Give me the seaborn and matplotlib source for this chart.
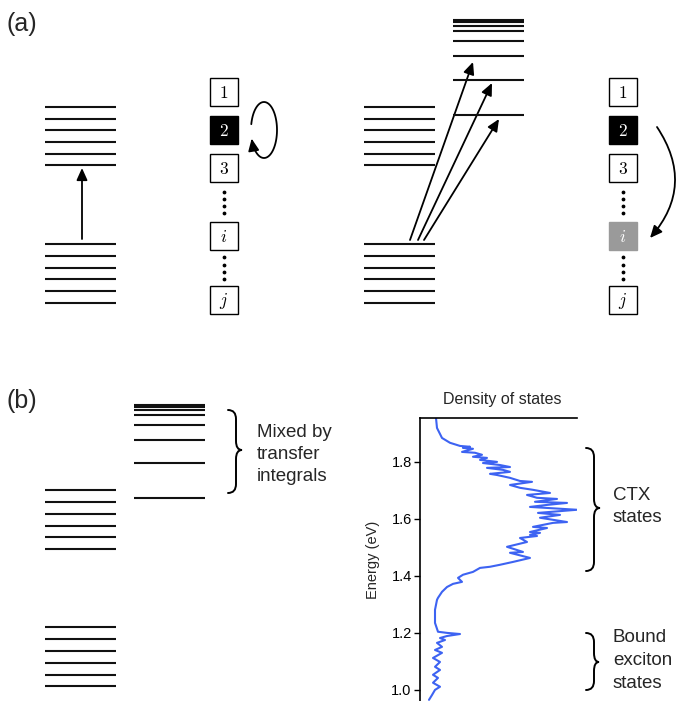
import matplotlib
matplotlib.use("Agg")
import matplotlib.pyplot as plt
import seaborn as sns
import pandas as pd
import numpy as np
from matplotlib.patches import Rectangle, FancyArrowPatch, PathPatch
from matplotlib.path import Path

sns.set_theme(style="white")
plt.rcParams["font.family"] = ["Liberation Sans", "DejaVu Sans"]
plt.rcParams["mathtext.fontset"] = "cm"

# ---------------- data: density of states (panel b) ----------------
dos_energy = [1.954, 1.919, 1.884, 1.867, 1.856, 1.853, 1.849, 1.846, 1.835, 1.832,
              1.825, 1.818, 1.814, 1.807, 1.800, 1.796, 1.789, 1.782, 1.779, 1.772,
              1.765, 1.758, 1.754, 1.744, 1.733, 1.730, 1.719, 1.709, 1.702, 1.691,
              1.684, 1.674, 1.670, 1.660, 1.656, 1.649, 1.642, 1.632, 1.621, 1.614,
              1.604, 1.589, 1.586, 1.572, 1.568, 1.554, 1.551, 1.544, 1.540, 1.533,
              1.519, 1.502, 1.484, 1.481, 1.463, 1.449, 1.439, 1.432, 1.428, 1.414,
              1.404, 1.393, 1.379, 1.372, 1.361, 1.344, 1.323, 1.316, 1.281, 1.235,
              1.204, 1.200, 1.196, 1.189, 1.182, 1.175, 1.165, 1.151, 1.140, 1.130,
              1.112, 1.098, 1.081, 1.070, 1.053, 1.042, 1.025, 1.011, 1.000, 0.982,
              0.965]
dos_value = [16, 17, 22, 30, 40, 50, 43, 53, 42, 55,
             62, 53, 67, 60, 77, 63, 80, 90, 67, 83,
             90, 70, 77, 90, 100, 112, 90, 100, 113, 130,
             107, 117, 137, 115, 147, 127, 110, 157, 118, 140,
             120, 147, 133, 113, 127, 110, 120, 110, 117, 100,
             107, 87, 103, 90, 110, 93, 80, 70, 60, 53,
             43, 38, 42, 33, 27, 22, 18, 17, 15, 15,
             18, 27, 40, 27, 20, 25, 17, 22, 15, 22,
             13, 20, 15, 20, 13, 18, 13, 20, 15, 12,
             9]
energy_ticks = [1.0, 1.2, 1.4, 1.6, 1.8]
energy_tick_labels = ["1.0", "1.2", "1.4", "1.6", "1.8"]

# ---------------- schematic level ladders (pixel layout) ----------------
a_upper_levels = [107, 118.5, 130, 142, 153.5, 165]
a_lower_levels = [244, 256, 267.5, 279, 291, 303]
a_ct_levels = [20, 22, 25.5, 31, 41, 56, 80, 115]
b_upper_levels = [490, 502, 514, 525.5, 537, 549]
b_lower_levels = [627, 639, 651, 663, 674.5, 686]
b_mixed_levels = [404.5, 407, 410, 415, 424.5, 440, 463, 498]
site_labels = ["$1$", "$2$", "$3$", "$i$", "$j$"]
site_rows = [92, 130, 168, 236, 300]

W, H = 676, 701
fig = plt.figure(figsize=(W / 100, H / 100), dpi=100)
fig.patch.set_facecolor("white")
ov = fig.add_axes([0, 0, 1, 1])
ov.set_xlim(0, W)
ov.set_ylim(H, 0)
ov.axis("off")

LC = "#111111"
LW = 1.5

def ladder(levels, x0, x1):
    ov.hlines(levels, x0, x1, colors=LC, lw=LW)

ladder(a_upper_levels, 45, 116)
ladder(a_lower_levels, 45, 116)
ladder(a_upper_levels, 364, 435)
ladder(a_lower_levels, 364, 435)
ladder(a_ct_levels, 453, 524)
ladder(b_upper_levels, 45, 116)
ladder(b_lower_levels, 45, 116)
ladder(b_mixed_levels, 134, 205)

AS = "-|>,head_length=0.6,head_width=0.27"

def arrow(p0, p1, **kw):
    ov.add_patch(FancyArrowPatch(p0, p1, arrowstyle=AS, mutation_scale=12,
                                 lw=1.3, color="black", shrinkA=0, shrinkB=0, **kw))

arrow((82, 239), (82, 168))
arrow((410, 240), (473, 62))
arrow((418, 240), (492, 83))
arrow((424, 240), (499, 119))
arrow((657, 127), (650, 238), connectionstyle="arc3,rad=-0.38")

# loop arrow
th = np.radians(np.linspace(168, -162, 80))
cx, cy, ea, eb = 264, 130, 13, 28
loop = Path(np.column_stack([cx + ea * np.cos(th), cy - eb * np.sin(th)]))
ov.add_patch(FancyArrowPatch(path=loop, arrowstyle=AS, mutation_scale=12,
                             lw=1.3, color="black"))

# site boxes
def sites(xl, filled):
    for k, (lab, yc) in enumerate(zip(site_labels, site_rows)):
        fc = filled.get(k, "white")
        ov.add_patch(Rectangle((xl, yc - 14), 28, 28, facecolor=fc,
                               edgecolor=fc if fc != "white" else "black", lw=1.0))
        ov.text(xl + 14, yc + 1, lab, ha="center", va="center", fontsize=12.5,
                color="white" if fc != "white" else "black")
    xd = xl + 14
    ov.scatter([xd] * 4, [192, 199, 206, 213], s=3, color="black", zorder=3)
    ov.scatter([xd] * 4, [257, 264.5, 272, 279], s=3, color="black", zorder=3)

sites(210, {1: "black"})
sites(609, {1: "black", 3: "#9a9a9a"})

# braces
def brace(x0, xs, xt, y0, y1, ym, r=9):
    verts = [(x0, y0), (xs, y0), (xs, y0 + r), (xs, ym - r), (xs, ym), (xt, ym),
             (xs, ym), (xs, ym + r), (xs, y1 - r), (xs, y1), (x0, y1)]
    codes = [Path.MOVETO, Path.CURVE3, Path.CURVE3, Path.LINETO, Path.CURVE3, Path.CURVE3,
             Path.CURVE3, Path.CURVE3, Path.LINETO, Path.CURVE3, Path.CURVE3]
    ov.add_patch(PathPatch(Path(verts, codes), fill=False, lw=1.4, color="black",
                           capstyle="round"))

brace(228, 236, 242, 410, 493, 450)
brace(586, 594, 600, 448, 571, 508)
brace(586, 594, 599, 633, 690, 662)

FS = 13.5
for txt, yb in zip(["Mixed by", "transfer", "integrals"], [437, 459, 481]):
    ov.text(257, yb, txt, fontsize=FS, va="baseline", ha="left")
for txt, yb in zip(["CTX", "states"], [500, 522.5]):
    ov.text(613, yb, txt, fontsize=FS, va="baseline", ha="left")
for txt, yb in zip(["Bound", "exciton", "states"], [642.5, 665, 688]):
    ov.text(613, yb, txt, fontsize=FS, va="baseline", ha="left")

ov.text(6, 24, "(a)", fontsize=18, va="center", ha="left")
ov.text(6, 401, "(b)", fontsize=18, va="center", ha="left")

# ---------------- density of states axes ----------------
ax = fig.add_axes([420 / W, 0, 157 / W, (H - 418) / H])
ax.patch.set_alpha(0)
df = pd.DataFrame({"Energy": dos_energy, "DOS": dos_value})
sns.lineplot(data=df, x="DOS", y="Energy", sort=False, estimator=None,
             color="#3d63f2", lw=1.5, ax=ax)
ax.set_xlim(0, 157)
ax.set_ylim(0.961, 1.954)
for s in ["right", "bottom"]:
    ax.spines[s].set_visible(False)
for s in ["left", "top"]:
    ax.spines[s].set_visible(True)
    ax.spines[s].set_color("black")
    ax.spines[s].set_linewidth(1.2)
ax.set_xticks([])
ax.set_xlabel("")
ax.set_yticks(energy_ticks)
ax.set_yticklabels(energy_tick_labels)
ax.tick_params(axis="y", left=True, direction="out", length=4, width=1.0,
               labelsize=10.5, pad=2, colors="black")
ax.set_ylabel("Energy (eV)", fontsize=10.5)
ax.yaxis.set_label_coords(-0.255, 0.5)
ax.set_title("Density of states", fontsize=11.5, pad=10, x=(502 - 420) / 157)

fig.savefig("out.png", dpi=100, facecolor="white")
